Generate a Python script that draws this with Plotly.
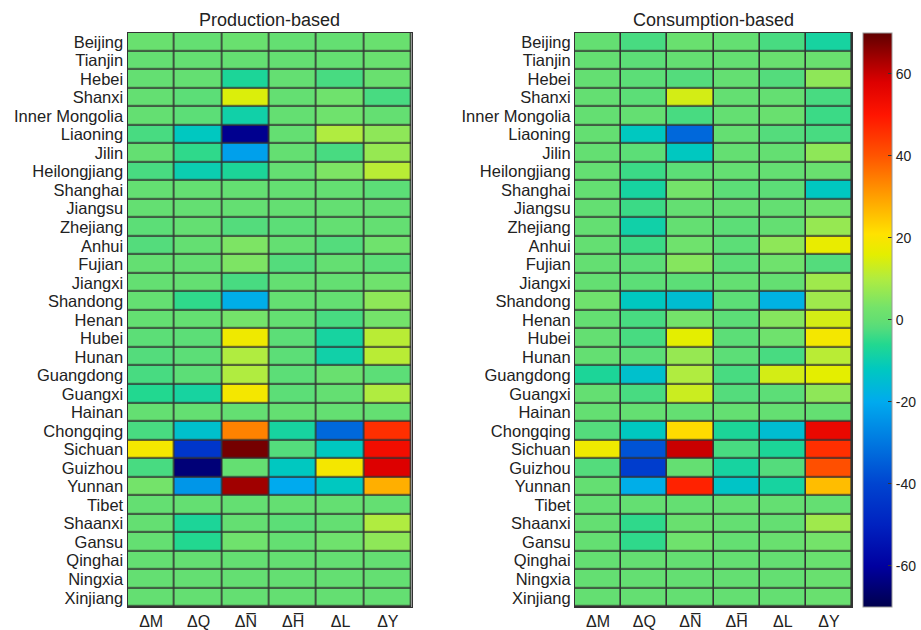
import plotly.graph_objects as go

provinces = ["Beijing", "Tianjin", "Hebei", "Shanxi", "Inner Mongolia", "Liaoning", "Jilin",
             "Heilongjiang", "Shanghai", "Jiangsu", "Zhejiang", "Anhui", "Fujian", "Jiangxi",
             "Shandong", "Henan", "Hubei", "Hunan", "Guangdong", "Guangxi", "Hainan",
             "Chongqing", "Sichuan", "Guizhou", "Yunnan", "Tibet", "Shaanxi", "Gansu",
             "Qinghai", "Ningxia", "Xinjiang"]

factors = ["ΔM", "ΔQ", "ΔN\u0305", "ΔH\u0305", "ΔL", "ΔY"]

# Production-based (rows = provinces, cols = factors)
production = [
    [1, 0, 1, 0, 0, 1],
    [0, 0, 0, 0, 0, 1],
    [0, 0, -7, 0, -3, 1],
    [0, -1, 15, 0, 2, -3],
    [0, -1, -9, 0, 2, 0],
    [-3, -12, -62, 0, 10, 6],
    [0, -5, -22, 0, -3, 7],
    [-3, -10, -7, 0, 4, 11],
    [0, 0, 0, 0, 0, -1],
    [0, 0, 0, 0, 0, 0],
    [-1, 0, -2, -1, 0, 0],
    [-2, 0, 4, 0, -2, 2],
    [0, 0, 4, -2, 0, -1],
    [0, 0, -3, 0, 0, 2],
    [0, -5, -19, 0, 0, 6],
    [0, 0, 3, 0, -3, 3],
    [-1, -1, 18, -1, -8, 11],
    [-2, -1, 10, -1, -9, 11],
    [-3, -1, 10, -1, 1, -1],
    [-6, -8, 19, -1, 0, 10],
    [0, 0, 0, 0, 0, 0],
    [-3, -14, 34, -8, -33, 46],
    [19, -44, 68, -2, -12, 53],
    [-3, -65, 0, -12, 19, 58],
    [3, -24, 64, -20, -12, 28],
    [0, 0, 0, 0, 0, 0],
    [0, -7, 0, -1, 0, 10],
    [0, -6, 2, 0, 2, 6],
    [0, 0, 0, 0, 0, 0],
    [0, 0, 0, 0, 0, 0],
    [0, 0, 0, 0, 0, 0],
]

# Consumption-based
consumption = [
    [0, -3, 1, 0, -3, -8],
    [0, -1, 0, 0, 1, 1],
    [0, -1, -2, 0, -2, 6],
    [0, -1, 14, 0, 0, -3],
    [0, 0, -3, 0, 1, -4],
    [0, -12, -33, 0, -2, -3],
    [0, -1, -12, 0, 0, 6],
    [0, -4, -1, 0, 0, 1],
    [0, -8, 3, -1, -1, -12],
    [0, -4, 0, 0, 0, 2],
    [0, -9, 0, -1, 0, 7],
    [0, -4, 2, -1, 6, 17],
    [0, -1, 5, -1, 2, -2],
    [0, -1, -1, 0, 0, 8],
    [2, -12, -15, -1, -18, 8],
    [0, -3, 3, -1, 5, 14],
    [0, -3, 16, -1, 2, 19],
    [0, -1, 7, -1, -3, 11],
    [-7, -14, 10, -3, 14, 16],
    [0, -3, 13, -2, -1, 6],
    [0, 0, 0, 0, 0, 0],
    [-2, -12, 22, -7, -15, 55],
    [18, -37, 60, -3, -7, 46],
    [-2, -42, 0, -8, -2, 41],
    [0, -19, 48, -13, -8, 26],
    [0, 0, 0, 0, 0, 0],
    [0, -5, 1, 0, 0, 8],
    [0, -5, 2, 0, 1, 3],
    [0, 0, 0, 0, 0, 1],
    [0, 0, 0, 0, 0, 1],
    [0, 0, 0, 0, 0, 1],
]

colorbar_ticks = [-60, -40, -20, 0, 20, 40, 60]
colorbar_ticktext = ["-60", "-40", "-20", "0", "20", "40", "60"]

W, H = 921, 630
cmin, cmax = -70, 70


def n(v):
    return (v - cmin) / (cmax - cmin)


colorscale = [
    [n(-70), "#00004d"],
    [n(-60), "#0000a0"],
    [n(-50), "#0022c0"],
    [n(-40), "#0044d0"],
    [n(-30), "#0077e0"],
    [n(-20), "#00aaee"],
    [n(-12), "#00c8c0"],
    [n(-6), "#22d890"],
    [n(-2), "#54dc7c"],
    [n(0), "#64df72"],
    [n(3), "#74e36a"],
    [n(10), "#b0ec40"],
    [n(16), "#e4ee00"],
    [n(21), "#ffe200"],
    [n(30), "#ffa000"],
    [n(40), "#ff5500"],
    [n(50), "#ff1500"],
    [n(58), "#dd0000"],
    [n(64), "#a00000"],
    [n(70), "#600000"],
]

top_px, bot_px = 32.7, 607.0
y0, y1 = 1 - bot_px / H, 1 - top_px / H
left_dom = [127.5 / W, 411.5 / W]
right_dom = [575.0 / W, 852.0 / W]
cb_x = 863 / W
title_y = 1 - 20 / H

FONT = "Arial, Liberation Sans, sans-serif"

fig = go.Figure()
fig.add_trace(go.Heatmap(z=production, x=factors, y=provinces, coloraxis="coloraxis",
                         xgap=1.6, ygap=1.6, xaxis="x", yaxis="y",
                         hovertemplate="%{y} %{x}: %{z}<extra></extra>"))
fig.add_trace(go.Heatmap(z=consumption, x=factors, y=provinces, coloraxis="coloraxis",
                         xgap=1.6, ygap=1.6, xaxis="x2", yaxis="y2",
                         hovertemplate="%{y} %{x}: %{z}<extra></extra>"))

axis_common = dict(showline=True, mirror=True, linecolor="#333333", linewidth=1,
                   showgrid=False, zeroline=False, ticks="", automargin=False)
ytick_font = dict(family=FONT, size=16.5, color="#222222")
xtick_font = dict(family=FONT, size=16, color="#222222")
yticks = dict(tickmode="array", tickvals=provinces, ticktext=provinces)
xticks = dict(tickmode="array", tickvals=factors, ticktext=factors)

fig.update_layout(
    width=W, height=H,
    margin=dict(l=0, r=0, t=0, b=0, autoexpand=False),
    paper_bgcolor="white",
    plot_bgcolor="#333333",
    font=dict(family=FONT, color="#222222"),
    xaxis=dict(domain=left_dom, anchor="y", tickfont=xtick_font, **xticks, **axis_common),
    yaxis=dict(domain=[y0, y1], anchor="x", autorange="reversed", tickfont=ytick_font,
               **yticks, **axis_common),
    xaxis2=dict(domain=right_dom, anchor="y2", tickfont=xtick_font, **xticks, **axis_common),
    yaxis2=dict(domain=[y0, y1], anchor="x2", autorange="reversed", tickfont=ytick_font,
                **yticks, **axis_common),
    coloraxis=dict(
        cmin=cmin, cmax=cmax, colorscale=colorscale,
        colorbar=dict(
            x=cb_x, xanchor="left", xpad=0, y=(y0 + y1) / 2, yanchor="middle", ypad=0,
            thickness=29, thicknessmode="pixels",
            len=bot_px - top_px, lenmode="pixels",
            tickmode="array", tickvals=colorbar_ticks, ticktext=colorbar_ticktext,
            ticks="inside", ticklen=4, tickcolor="#333333",
            tickfont=dict(family=FONT, size=14, color="#222222"),
            outlinewidth=1, outlinecolor="#999999",
        ),
    ),
    annotations=[
        dict(text="Production-based", x=sum(left_dom) / 2, y=title_y, xref="paper", yref="paper",
             xanchor="center", yanchor="middle",
             showarrow=False, font=dict(family=FONT, size=18, color="#222222")),
        dict(text="Consumption-based", x=sum(right_dom) / 2, y=title_y, xref="paper", yref="paper",
             xanchor="center", yanchor="middle",
             showarrow=False, font=dict(family=FONT, size=18, color="#222222")),
    ],
)

fig.write_html("out.html",
               config={"displayModeBar": False},
               post_script="document.body.style.margin='0';document.body.style.overflow='hidden';")
